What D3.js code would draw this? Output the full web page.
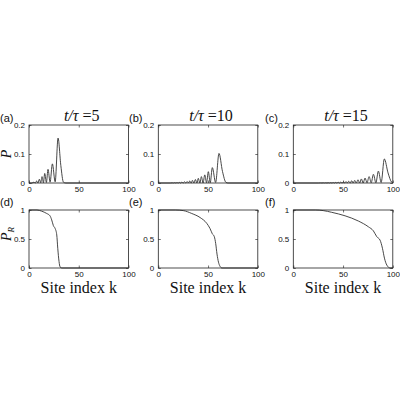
<!DOCTYPE html>
<html>
<head>
<meta charset="utf-8">
<script src="https://cdn.jsdelivr.net/npm/d3@7"></script>
<style>
  body { margin: 0; background: #fff; }
</style>
</head>
<body>
<div id="chart"></div>
<script>

// probability P_k at t/tau = 5, 10, 15
var kA = [0, 3, 5, 6.3, 7.7, 9, 10.4, 11.8, 13.1, 14.5, 15.8, 17.5, 19.1, 21.2, 23.5, 26.3, 29.2, 32, 34.6, 37, 100];
var pA = [0, 0, 0.003, 0, 0.007, 0, 0.013, 0.001, 0.022, 0.001, 0.033, 0.002, 0.047, 0.003, 0.066, 0.004, 0.155, 0.06, 0.003, 0, 0];

var kB = [0, 12, 14, 15.2, 16.5, 17.6, 18.8, 20, 21.2, 22.4, 23.7, 25, 26.3, 27.6, 29, 30.3, 31.6, 33, 34.3, 35.8,
          37.3, 38.8, 40.2, 41.8, 43.3, 45, 46.7, 48.5, 50.3, 52.2, 54.3, 57.6, 61, 64.5, 68, 70, 100];
var pB = [0, 0, 0.0005, 0, 0.001, 0, 0.0015, 0, 0.002, 0, 0.003, 0, 0.004, 0, 0.005, 0, 0.007, 0, 0.009, 0,
          0.012, 0, 0.016, 0, 0.022, 0, 0.028, 0.001, 0.039, 0.001, 0.053, 0.002, 0.102, 0.04, 0.002, 0, 0];

var kC = [0, 25, 27.5, 28.8, 30.1, 31.3, 32.6, 33.8, 35.1, 36.3, 37.6, 38.8, 40.1, 41.3, 42.6, 43.8, 45.1, 46.4, 47.7, 49,
          50.4, 51.7, 53, 54.3, 55.7, 57.2, 58.7, 60.2, 61.7, 63.3, 65, 66.7, 68.4, 70.2, 72.1, 74.1, 76.2, 78.3, 80.5, 83,
          85.5, 88.3, 91.5, 95.2, 98.8, 100];
var pC = [0, 0, 0.0003, 0, 0.0005, 0, 0.0006, 0, 0.0008, 0, 0.001, 0, 0.0015, 0, 0.002, 0, 0.0025, 0, 0.003, 0,
          0.004, 0, 0.005, 0, 0.006, 0, 0.008, 0, 0.009, 0, 0.011, 0, 0.014, 0, 0.017, 0.001, 0.022, 0.001, 0.030, 0.001,
          0.041, 0.002, 0.083, 0.035, 0.003, 0.001];

// P_R
var kD = [0, 8, 12.7, 17.8, 21.1, 22.8, 24.5, 26.3, 27.9, 28.9, 30.2, 31.2, 33, 100];
var rD = [1, 1, 0.98, 0.94, 0.90, 0.83, 0.73, 0.68, 0.57, 0.34, 0.11, 0.02, 0, 0];

var kE = [0, 17, 25, 33.6, 42, 48.7, 52, 54.3, 56.3, 57.7, 59, 60.5, 62, 64, 100];
var rE = [1, 1, 0.99, 0.94, 0.87, 0.77, 0.68, 0.59, 0.54, 0.42, 0.24, 0.10, 0.03, 0, 0];

var kF = [0, 22, 30, 38.6, 52, 65.4, 75.5, 80.5, 83.9, 87.2, 89.6, 91.6, 94, 97.3, 100];
var rF = [1, 1, 0.99, 0.96, 0.90, 0.81, 0.71, 0.64, 0.54, 0.48, 0.34, 0.17, 0.05, 0, 0];

var times = ["5", "10", "15"];
var letters = ["(a)", "(b)", "(c)", "(d)", "(e)", "(f)"];
var xTicks = [0, 50, 100];
var pTicks = [0, 0.1, 0.2];
var rTicks = [0, 0.5, 1];

var svg = d3.select("#chart").append("svg")
  .attr("width", 400)
  .attr("height", 400);

var colLeft = [29, 158.3, 293.3];
var rowTop = [125, 210];
var boxW = 99.5, boxH = 58;

var tickFont = "'Liberation Sans', Arial, sans-serif";
var serif = "'Liberation Serif', 'Times New Roman', serif";

var topSeries = [[kA, pA], [kB, pB], [kC, pC]];
var botSeries = [[kD, rD], [kE, rE], [kF, rF]];

function drawPanel(left, top, ks, vs, yMax, yTicks) {
  var g = svg.append("g").attr("transform", `translate(${left}, ${top})`);

  var x = d3.scaleLinear().domain([0, 100]).range([0, boxW]);
  var y = d3.scaleLinear().domain([0, yMax]).range([boxH, 0]);

  var fmt = d => String(d);

  var bottomAxis = d3.axisBottom(x).tickValues(xTicks).tickFormat(fmt)
    .tickSizeInner(-2.5).tickSizeOuter(0).tickPadding(3);
  var leftAxis = d3.axisLeft(y).tickValues(yTicks).tickFormat(fmt)
    .tickSizeInner(-2.5).tickSizeOuter(0).tickPadding(4);
  var topAxis = d3.axisTop(x).tickValues(xTicks).tickFormat("")
    .tickSizeInner(-2.5).tickSizeOuter(0);
  var rightAxis = d3.axisRight(y).tickValues(yTicks).tickFormat("")
    .tickSizeInner(-2.5).tickSizeOuter(0);

  var axes = [
    g.append("g").attr("transform", `translate(0, ${boxH})`).call(bottomAxis),
    g.append("g").call(leftAxis),
    g.append("g").call(topAxis),
    g.append("g").attr("transform", `translate(${boxW}, 0)`).call(rightAxis)
  ];
  axes.forEach(function(a) {
    a.select(".domain").remove();
    a.selectAll("line").attr("stroke", "#333").attr("stroke-width", 0.7);
    a.selectAll("text")
      .attr("font-family", tickFont)
      .attr("font-size", "8px")
      .attr("fill", "#111");
  });

  var line = d3.line()
    .x((d, i) => x(ks[i]))
    .y(d => y(d))
    .curve(d3.curveMonotoneX);

  g.append("path")
    .datum(vs)
    .attr("d", line)
    .attr("fill", "none")
    .attr("stroke", "#333")
    .attr("stroke-width", 0.9);

  g.append("rect")
    .attr("width", boxW)
    .attr("height", boxH)
    .attr("fill", "none")
    .attr("stroke", "#222")
    .attr("stroke-width", 0.8);
}

for (var c = 0; c < 3; c++) {
  drawPanel(colLeft[c], rowTop[0], topSeries[c][0], topSeries[c][1], 0.2, pTicks);
  drawPanel(colLeft[c], rowTop[1], botSeries[c][0], botSeries[c][1], 1, rTicks);

  // titles
  var title = svg.append("text")
    .attr("x", colLeft[c] + boxW / 2 + 3)
    .attr("y", 121)
    .attr("text-anchor", "middle")
    .attr("font-family", serif)
    .attr("font-size", "16px")
    .attr("fill", "#111");
  title.append("tspan").attr("font-style", "italic").text("t/τ");
  title.append("tspan").text(" =" + times[c]);

  // x label
  svg.append("text")
    .attr("x", colLeft[c] + boxW / 2)
    .attr("y", 293)
    .attr("text-anchor", "middle")
    .attr("font-family", serif)
    .attr("font-size", "16px")
    .attr("fill", "#111")
    .text("Site index k");
}

var letterX = [0, 129, 265];
letters.forEach(function(l, i) {
  svg.append("text")
    .attr("x", letterX[i % 3])
    .attr("y", i < 3 ? 122 : 206)
    .attr("font-family", tickFont)
    .attr("font-size", "11px")
    .attr("fill", "#111")
    .text(l);
});

// y labels
svg.append("text")
  .attr("transform", "translate(11, 154) rotate(-90)")
  .attr("text-anchor", "middle")
  .attr("font-family", serif)
  .attr("font-style", "italic")
  .attr("font-size", "14px")
  .attr("fill", "#111")
  .text("P");

var prLabel = svg.append("text")
  .attr("transform", "translate(11, 234) rotate(-90)")
  .attr("text-anchor", "middle")
  .attr("font-family", serif)
  .attr("font-style", "italic")
  .attr("font-size", "14px")
  .attr("fill", "#111");
prLabel.append("tspan").text("P");
prLabel.append("tspan").attr("font-size", "9px").attr("dy", 3).text("R");

</script>
</body>
</html>
